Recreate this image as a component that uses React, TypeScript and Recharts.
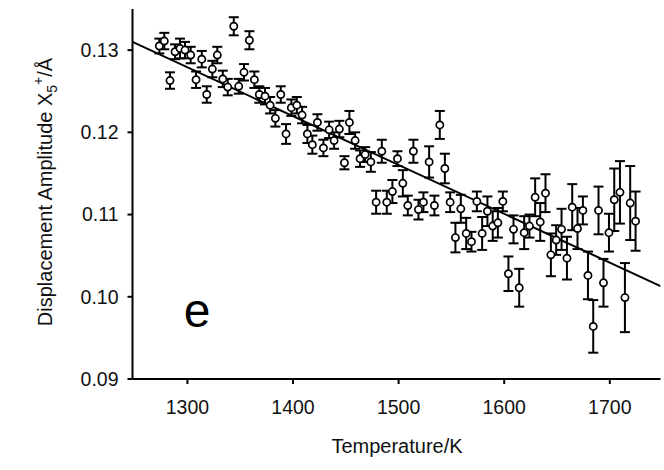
import React from 'react';
import { ComposedChart, Scatter, XAxis, YAxis, ErrorBar } from 'recharts';

const temperature = [
  1273.4, 1278.1, 1283.5, 1288.3, 1293, 1297.7, 1303.1, 1308.2, 1313.6, 1318.3,
  1323.6, 1328.3, 1333.5, 1338.2, 1343.9, 1348.6, 1353.6, 1358.7, 1363.4, 1368.1,
  1373.5, 1378.3, 1383.3, 1388.4, 1393.4, 1398.4, 1403.6, 1408.6, 1413.6, 1418.3,
  1423.1, 1428.8, 1434.2, 1438.9, 1443.9, 1448.7, 1453.4, 1458.8, 1463.5, 1468.3,
  1473.7, 1478.7, 1484.1, 1488.8, 1494.1, 1498.9, 1504, 1508.7, 1514, 1518.8,
  1523.5, 1528.9, 1533.9, 1539, 1543.8, 1548.8, 1553.8, 1558.9, 1564, 1569,
  1574.1, 1579.1, 1584.1, 1589.1, 1594, 1598.7, 1604, 1608.8, 1614.2, 1618.9,
  1623.9, 1629.3, 1634.1, 1639.1, 1644.2, 1649.2, 1654.3, 1659.4, 1664.4, 1669.4,
  1674.5, 1679.3, 1684.3, 1689.3, 1694, 1699.2, 1704.2, 1709.6, 1714.3, 1719.3,
  1724.4,
];

const amplitude = [
  0.1305, 0.1311, 0.1263, 0.1298, 0.1302, 0.13, 0.1294, 0.1264, 0.1289, 0.1246,
  0.1277, 0.1294, 0.1265, 0.1255, 0.1329, 0.1256, 0.1273, 0.1312, 0.1264, 0.1246,
  0.1244, 0.1233, 0.1217, 0.1246, 0.1198, 0.123, 0.1233, 0.1221, 0.1198, 0.1185,
  0.1212, 0.1181, 0.1203, 0.119, 0.1204, 0.1163, 0.1212, 0.119, 0.1168, 0.1173,
  0.1164, 0.1115, 0.1177, 0.1115, 0.1128, 0.1168, 0.1138, 0.1111, 0.1177, 0.1106,
  0.1115, 0.1164, 0.1111, 0.1209, 0.1156, 0.1115, 0.1072, 0.1107, 0.1077, 0.1067,
  0.1116, 0.1077, 0.1104, 0.1086, 0.109, 0.1116, 0.1028, 0.1082, 0.1011, 0.1078,
  0.1086, 0.1121, 0.1091, 0.1126, 0.1051, 0.1069, 0.1082, 0.1047, 0.1109, 0.1083,
  0.1105, 0.1026, 0.0964, 0.1105, 0.1017, 0.1078, 0.1118, 0.1127, 0.0999, 0.1114,
  0.1092,
];

const amplitudeError = [
  0.0009, 0.001, 0.001, 0.0009, 0.0012, 0.001, 0.001, 0.001, 0.001, 0.001,
  0.001, 0.001, 0.001, 0.001, 0.0011, 0.0009, 0.001, 0.0011, 0.001, 0.001,
  0.001, 0.001, 0.001, 0.001, 0.0012, 0.001, 0.001, 0.001, 0.0011, 0.0011,
  0.001, 0.001, 0.001, 0.001, 0.001, 0.0008, 0.0014, 0.001, 0.001, 0.0009,
  0.0012, 0.0014, 0.0014, 0.0014, 0.0014, 0.0009, 0.0016, 0.0012, 0.0014, 0.0012,
  0.0012, 0.0019, 0.0012, 0.0017, 0.0018, 0.0012, 0.0018, 0.0017, 0.0019, 0.0012,
  0.0012, 0.002, 0.0018, 0.0018, 0.0018, 0.0012, 0.0021, 0.0017, 0.0023, 0.002,
  0.0014, 0.0023, 0.0023, 0.0023, 0.0026, 0.0018, 0.0025, 0.0026, 0.0028, 0.0025,
  0.0017, 0.0029, 0.0032, 0.0029, 0.0029, 0.0023, 0.0038, 0.0038, 0.0042, 0.0045,
  0.0036,
];

const fitTemperature = [1248, 1748];
const fitAmplitude = [0.131, 0.1013];

const xTicks = [1300, 1400, 1500, 1600, 1700];
const yTicks = [0.09, 0.1, 0.11, 0.12, 0.13];

const points = temperature.map((t, i) => ({ t, v: amplitude[i], err: amplitudeError[i] }));
const fitPoints = fitTemperature.map((t, i) => ({ t, v: fitAmplitude[i] }));

const FONT = '"Liberation Sans", Arial, sans-serif';

const OpenCircle = (props: any) => {
  const { cx, cy } = props;
  if (cx == null || cy == null) return <g />;
  return <circle cx={cx} cy={cy} r={3.6} fill="#fff" stroke="#000" strokeWidth={1.7} />;
};

export default function App() {
  return (
    <div style={{ position: 'absolute', left: 0, top: 0, width: 664, height: 470, background: '#fff' }}>
      <ComposedChart
        width={664}
        height={470}
        margin={{ top: 9, right: 3.5, bottom: 61, left: 72.5 }}
        style={{ fontFamily: FONT }}
      >
        <XAxis
          xAxisId="b"
          dataKey="t"
          type="number"
          domain={[1248, 1748]}
          ticks={xTicks}
          allowDataOverflow
          height={30}
          axisLine={{ stroke: '#000', strokeWidth: 2 }}
          tickLine={{ stroke: '#000', strokeWidth: 2 }}
          tickSize={5}
          tickMargin={16}
          tick={{ fill: '#111', fontSize: 19.5, fontFamily: FONT }}
        />
        <XAxis
          xAxisId="t"
          orientation="top"
          dataKey="t"
          type="number"
          domain={[1248, 1748]}
          allowDataOverflow
          height={0}
          tick={false}
          tickLine={false}
          axisLine={{ stroke: '#000', strokeWidth: 2 }}
        />
        <YAxis
          yAxisId="l"
          dataKey="v"
          type="number"
          domain={[0.09, 0.135]}
          ticks={yTicks}
          allowDataOverflow
          width={60}
          axisLine={{ stroke: '#000', strokeWidth: 2 }}
          tickLine={{ stroke: '#000', strokeWidth: 2 }}
          tickSize={5}
          tickMargin={9}
          tickFormatter={(v: number) => v.toFixed(2)}
          tick={{ fill: '#111', fontSize: 19.5, fontFamily: FONT }}
        />
        <YAxis
          yAxisId="r"
          orientation="right"
          dataKey="v"
          type="number"
          domain={[0.09, 0.135]}
          allowDataOverflow
          width={0}
          tick={false}
          tickLine={false}
          axisLine={{ stroke: '#000', strokeWidth: 2 }}
        />
        <Scatter
          xAxisId="b"
          yAxisId="l"
          data={fitPoints}
          dataKey="v"
          line={{ stroke: '#000', strokeWidth: 2 }}
          shape={() => <g />}
          isAnimationActive={false}
        />
        <Scatter
          xAxisId="b"
          yAxisId="l"
          data={points}
          dataKey="v"
          shape={OpenCircle}
          isAnimationActive={false}
        >
          <ErrorBar dataKey="err" direction="y" width={5} stroke="#000" strokeWidth={2} isAnimationActive={false} />
        </Scatter>
      </ComposedChart>
      <svg width={664} height={470} style={{ position: 'absolute', left: 0, top: 0, pointerEvents: 'none' }}>
        <text x={397} y={453} textAnchor="middle" fontSize={20} fill="#111" fontFamily={FONT}>
          Temperature/K
        </text>
        <text
          x={52}
          y={192}
          textAnchor="middle"
          fontSize={20}
          fill="#111"
          fontFamily={FONT}
          transform="rotate(-90 52 192)"
        >
          Displacement Amplitude X
          <tspan fontSize={14} dy={5}>5</tspan>
          <tspan fontSize={14} dy={-14}>+</tspan>
          <tspan dy={9}>/Å</tspan>
        </text>
        <text x={197} y={327} textAnchor="middle" fontSize={48} fill="#000" fontFamily={FONT}>
          e
        </text>
      </svg>
    </div>
  );
}
